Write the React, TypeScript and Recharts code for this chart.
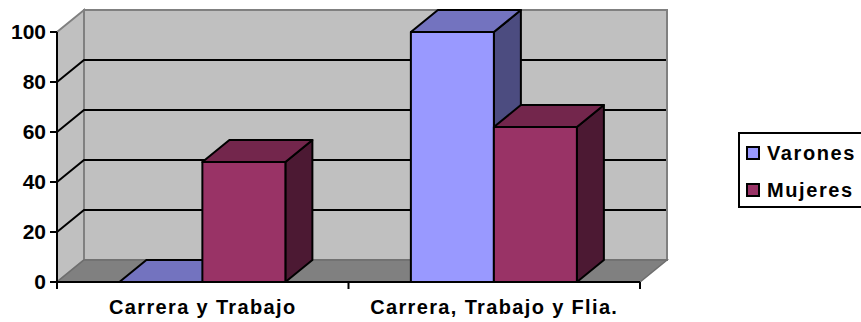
import React from 'react';
import { BarChart, Bar, XAxis, YAxis, ReferenceArea, Legend } from 'recharts';

const categories = ['Carrera y Trabajo', 'Carrera, Trabajo y Flia.'];
const varones = [0, 100];
const mujeres = [48, 62];
const yTicks = [0, 20, 40, 60, 80, 100];
const gridValues = [20, 40, 60, 80];

const seriesNames = { varones: 'Varones', mujeres: 'Mujeres' };
const seriesColors = {
  varones: { front: '#9999FF', top: '#7373BF', side: '#4C4C80' },
  mujeres: { front: '#993366', top: '#73264C', side: '#4C1933' },
};

const rows = categories.map((category, i) => ({
  category,
  varones: varones[i],
  mujeres: mujeres[i],
}));

// Oblique projection offset of the chart's depth axis
const DEPTH_X = 27;
const DEPTH_Y = 22;

const TICK_LENGTH = 7;
const LABEL_GAP = 18;

const font = '"Liberation Sans", Arial, sans-serif';

const pts = (list: number[][]) => list.map((p) => p.join(',')).join(' ');

// Side wall, back wall and floor of the 3D box
const Walls = ({ x, y, width, height }: any) => {
  const l = x;
  const r = x + width;
  const t = y;
  const b = y + height;
  return (
    <g>
      <polygon
        points={pts([[l + DEPTH_X, t - DEPTH_Y], [r + DEPTH_X, t - DEPTH_Y], [r + DEPTH_X, b - DEPTH_Y], [l + DEPTH_X, b - DEPTH_Y]])}
        fill="#C0C0C0"
        stroke="#808080"
        strokeWidth={2}
      />
      <polygon
        points={pts([[l, t], [l + DEPTH_X, t - DEPTH_Y], [l + DEPTH_X, b - DEPTH_Y], [l, b]])}
        fill="#C0C0C0"
        stroke="#808080"
        strokeWidth={2}
      />
      <polygon
        points={pts([[l, b], [l + DEPTH_X, b - DEPTH_Y], [r + DEPTH_X, b - DEPTH_Y], [r, b]])}
        fill="#808080"
        stroke="#6E6E6E"
        strokeWidth={1.5}
      />
    </g>
  );
};

// Gridline folded across the side wall and the back wall
const GridLine = ({ x, y, width }: any) => (
  <polyline
    points={pts([[x, y], [x + DEPTH_X, y - DEPTH_Y], [x + width + DEPTH_X - 1, y - DEPTH_Y]])}
    fill="none"
    stroke="#000"
    strokeWidth={2}
  />
);

const makeBox = (colors: { front: string; top: string; side: string }) => (props: any) => {
  const { x, y, width, height } = props;
  const r = x + width;
  const b = y + height;
  return (
    <g stroke="#000" strokeWidth={2} strokeLinejoin="round">
      <polygon points={pts([[r, y], [r + DEPTH_X, y - DEPTH_Y], [r + DEPTH_X, b - DEPTH_Y], [r, b]])} fill={colors.side} />
      <polygon points={pts([[x, y], [x + DEPTH_X, y - DEPTH_Y], [r + DEPTH_X, y - DEPTH_Y], [r, y]])} fill={colors.top} />
      <rect x={x} y={y} width={width} height={height} fill={colors.front} />
    </g>
  );
};

// Category label, with the tick marks placed on the band boundaries
const CategoryTick = ({ x, y, payload, index }: any) => {
  const half = payload.offset ?? 0;
  const axisY = y - LABEL_GAP;
  const edges = [x - half];
  if (index === categories.length - 1) edges.push(x + half);
  return (
    <g>
      {edges.map((ex) => (
        <line key={ex} x1={ex} x2={ex} y1={axisY} y2={axisY + TICK_LENGTH} stroke="#000" strokeWidth={2} />
      ))}
      <text
        x={x}
        y={y}
        dy="0.71em"
        textAnchor="middle"
        fontFamily={font}
        fontWeight={700}
        fontSize={20}
        letterSpacing={1.35}
        fill="#000"
      >
        {payload.value}
      </text>
    </g>
  );
};

const legendOrder = [seriesNames.varones, seriesNames.mujeres];

const LegendBox = ({ payload }: any) => {
  const items = [...(payload || [])].sort(
    (a: any, b: any) => legendOrder.indexOf(a.value) - legendOrder.indexOf(b.value),
  );
  return (
    <div
      style={{
        width: 130,
        height: 76,
        boxSizing: 'border-box',
        border: '2px solid #000',
        borderRight: 'none',
        background: '#fff',
        paddingLeft: 6,
        fontFamily: font,
        fontWeight: 700,
        fontSize: 20,
        letterSpacing: 1.6,
        color: '#000',
      }}
    >
      {items.map((entry: any, i: number) => (
        <div
          key={entry.value}
          style={{ display: 'flex', alignItems: 'center', height: 34, marginTop: i === 0 ? 2 : 3 }}
        >
          <span
            style={{
              display: 'inline-block',
              width: 14,
              height: 14,
              boxSizing: 'border-box',
              border: '2px solid #000',
              background: entry.color,
              marginRight: 7,
              flex: 'none',
            }}
          />
          {entry.value}
        </div>
      ))}
    </div>
  );
};

const axisLine = { stroke: '#000', strokeWidth: 2 };

export default function App() {
  return (
    <div style={{ position: 'absolute', left: 0, top: 0, width: 861, height: 322, overflow: 'hidden', background: '#fff' }}>
      <BarChart
        width={861}
        height={322}
        data={rows}
        margin={{ top: 32, right: 221, bottom: 0, left: 0 }}
        barCategoryGap="21.4%"
        barGap={0}
      >
        <ReferenceArea y1={0} y2={100} ifOverflow="visible" shape={<Walls />} />
        {gridValues.map((v) => (
          <ReferenceArea key={v} y1={v} y2={v} ifOverflow="visible" shape={<GridLine />} />
        ))}
        <XAxis
          dataKey="category"
          height={40}
          axisLine={axisLine}
          tickLine={false}
          tickSize={0}
          tickMargin={LABEL_GAP}
          tick={<CategoryTick />}
          interval={0}
        />
        <YAxis
          type="number"
          domain={[0, 100]}
          ticks={yTicks}
          width={57}
          axisLine={axisLine}
          tickLine={axisLine}
          tickSize={TICK_LENGTH}
          tickMargin={4}
          tick={{ fontFamily: font, fontWeight: 700, fontSize: 21, fill: '#000' }}
        />
        <Bar dataKey="varones" name={seriesNames.varones} fill={seriesColors.varones.front} shape={makeBox(seriesColors.varones)} isAnimationActive={false} />
        <Bar dataKey="mujeres" name={seriesNames.mujeres} fill={seriesColors.mujeres.front} shape={makeBox(seriesColors.mujeres)} isAnimationActive={false} />
        <Legend
          layout="vertical"
          align="center"
          verticalAlign="middle"
          content={<LegendBox />}
          wrapperStyle={{ position: 'absolute', left: 738, top: 132, width: 130 }}
        />
      </BarChart>
    </div>
  );
}
